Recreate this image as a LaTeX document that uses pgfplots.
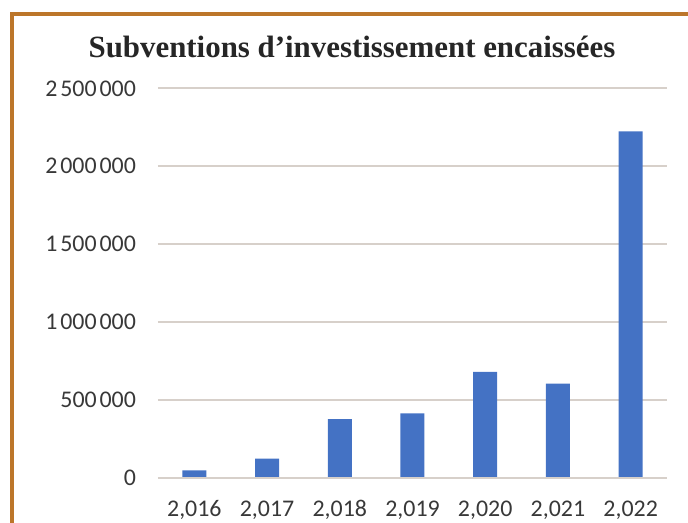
\documentclass[border=0pt]{standalone}
\usepackage{pgfplots}
\pgfplotsset{compat=1.18}
\usepackage{fontspec}
\setmainfont{Carlito}
\newfontfamily\titlefont{Liberation Serif}

\definecolor{barblue}{RGB}{68,114,196}
\definecolor{gridc}{RGB}{215,208,202}
\definecolor{framec}{RGB}{188,118,42}

\begin{document}
\begin{tikzpicture}
\begin{axis}[
  at={(0,0)}, anchor=south west,
  scale only axis,
  width=254.5bp, height=194.5bp,
  xmin=-0.5, xmax=6.5, ymin=0, ymax=2500000,
  ybar, bar width=12bp,
  xtick={0,...,6},
  xticklabels={{2,016},{2,017},{2,018},{2,019},{2,020},{2,021},{2,022}},
  ytick={0,500000,1000000,1500000,2000000,2500000},
  yticklabels={0,500\kern0.12em000,1\kern0.12em000\kern0.12em000,1\kern0.12em500\kern0.12em000,2\kern0.12em000\kern0.12em000,2\kern0.12em500\kern0.12em000},
  ymajorgrids, major grid style={gridc, line width=1bp},
  axis line style={draw=none},
  major tick length=0pt,
  tick label style={font=\fontsize{12}{14}\selectfont, text=black!78},
  yticklabel style={anchor=east, xshift=-7.5bp},
  xticklabel style={anchor=base, yshift=-19.5bp},
  scaled y ticks=false,
]
\addplot[fill=barblue, draw=none] coordinates {
  (0,45000) (1,121000) (2,375000) (3,412000) (4,679000) (5,603000) (6,2225000)
};
\draw[gridc, line width=1bp] (axis cs:-0.5,0) -- (axis cs:6.5,0);
\end{axis}
\node[font=\titlefont\bfseries\fontsize{15.5}{18}\selectfont, text=black!85] at (97bp,215.5bp) {Subventions d’investissement encaissées};
\draw[framec, line width=2bp] (-73bp,-40bp) -- (-73bp,231.5bp) -- (280bp,231.5bp);
\pgfresetboundingbox
\useasboundingbox (-79bp,-22.75bp) rectangle (265bp,238.75bp);
\end{tikzpicture}
\end{document}
